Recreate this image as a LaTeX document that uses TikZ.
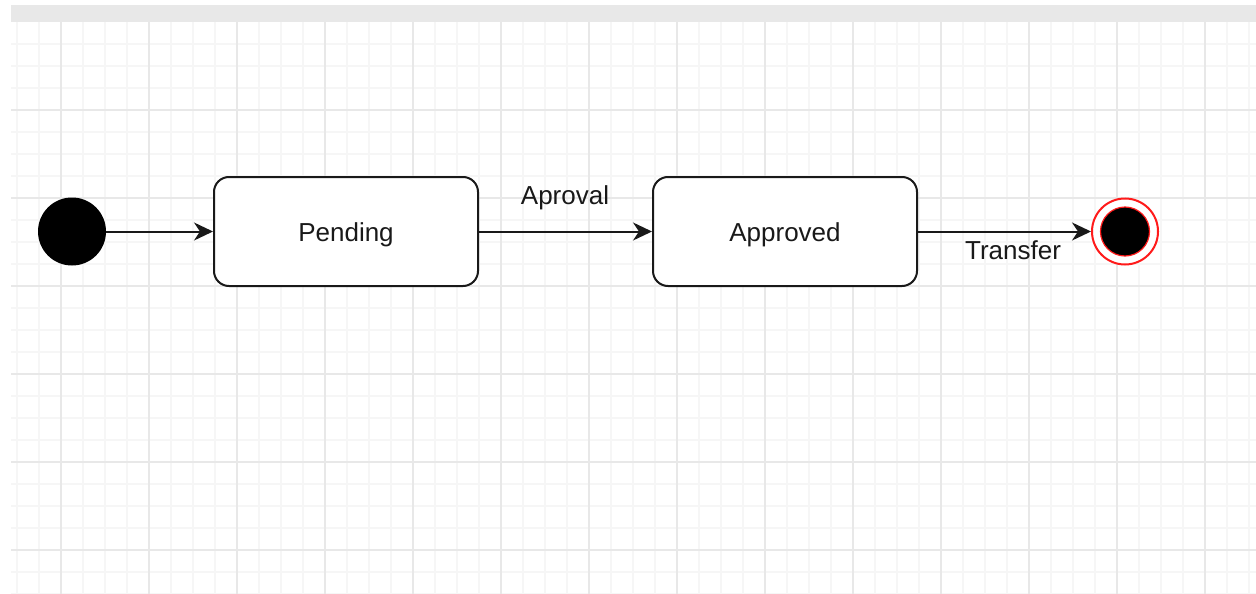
\documentclass[tikz,border=0pt]{standalone}
\usepackage{fontspec}
\setmainfont{Liberation Sans}
\usetikzlibrary{arrows.meta}
\definecolor{gridminor}{HTML}{F6F6F6}
\definecolor{gridmajor}{HTML}{E8E8E8}
\definecolor{barfill}{HTML}{E8E8E8}
\definecolor{endred}{HTML}{FF1A1A}
\begin{document}
\begin{tikzpicture}[x=1pt,y=-1pt,
  every node/.style={font=\fontsize{26}{30}\selectfont},
  statebox/.style={draw=black!90, line width=2pt, rounded corners=15pt, fill=white,
    minimum width=264pt, minimum height=109pt, inner sep=0pt,
    text height=25pt, text depth=6pt, text=black!90},
  startdot/.style={circle, fill=black, minimum size=68pt, inner sep=0pt},
  endring/.style={circle, draw=endred, line width=2pt, fill=white, minimum size=66pt, inner sep=0pt},
  enddot/.style={circle, draw=endred, line width=1.2pt, fill=black, minimum size=49pt, inner sep=0pt},
  edge/.style={draw=black!90, line width=2pt, -{Stealth[length=19pt, width=18pt, inset=6pt]}},
  edgelabel/.style={anchor=base, inner sep=0pt, text=black!90}]
  \useasboundingbox (0,0) rectangle (1256,594);
  \fill[white] (0,0) rectangle (1256,594);
  % toolbar strip
  \fill[barfill] (11,5) rectangle (1256,22);
  % background grid: minor lines, then major lines
  \foreach \x in {17,39,...,1256} \draw[gridminor, line width=1.6pt] (\x,22) -- (\x,594);
  \foreach \y in {44,66,...,594} \draw[gridminor, line width=1.6pt] (11,\y) -- (1256,\y);
  \foreach \x in {61,149,...,1256} \draw[gridmajor, line width=1.6pt] (\x,22) -- (\x,594);
  \foreach \y in {110,198,...,594} \draw[gridmajor, line width=1.6pt] (11,\y) -- (1256,\y);
  % states
  \node[startdot] (init) at (72,231.5) {};
  \node[statebox] (pend) at (346,231.5) {Pending};
  \node[statebox] (appr) at (785,231.5) {Approved};
  \node[endring] (fin) at (1125,231.5) {};
  \node[enddot] (findot) at (1125,231.5) {};
  % transitions
  \draw[edge] (init) -- (pend);
  \draw[edge] (pend) -- (appr);
  \draw[edge] (appr) -- (fin);
  \node[edgelabel] (lblA) at (565,204) {Aproval};
  \node[edgelabel] (lblT) at (1013,259) {Transfer};
\end{tikzpicture}
\end{document}
